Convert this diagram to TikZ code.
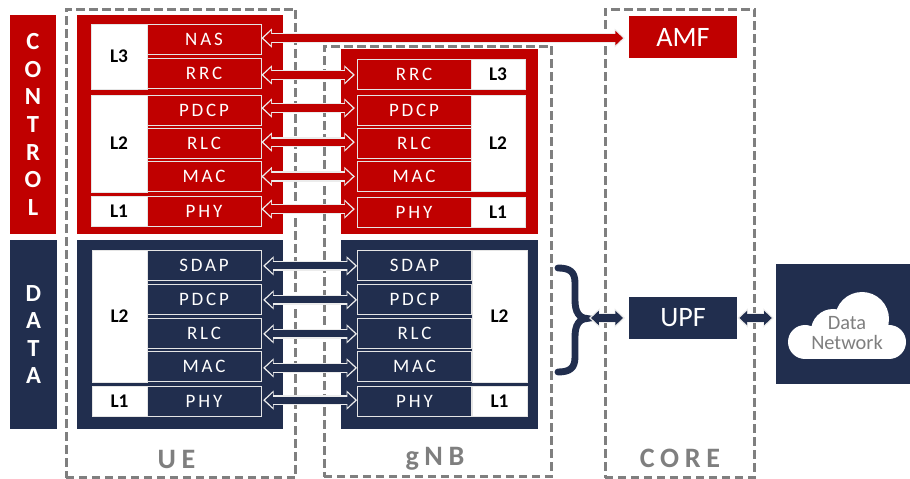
\documentclass[tikz,border=0pt]{standalone}
\usepackage{fontspec}
\setmainfont{Carlito}
\newfontfamily\spacedfont[LetterSpace=15]{Carlito}
\newfontfamily\widefont[LetterSpace=20]{Carlito}
\usetikzlibrary{arrows.meta}
\definecolor{ctrlred}{RGB}{192,0,0}
\definecolor{datanavy}{RGB}{33,46,78}
\definecolor{sitegray}{RGB}{127,127,127}

\begin{document}
\begin{tikzpicture}[
    x=0.02cm, y=-0.02cm,
    box/.style={rectangle, draw=white!80!gray, thin, text=white, inner sep=0, minimum width=2.28cm,
                minimum height=0.6cm, font=\spacedfont\fontsize{10.8}{12}\selectfont},
    tag/.style={rectangle, draw=white!80!gray, thin, fill=white, inner sep=0, minimum width=1.12cm,
                font=\bfseries\fontsize{11}{12}\selectfont},
    panel/.style={rectangle, inner sep=0, minimum width=4.12cm},
    plane/.style={rectangle, inner sep=0, text=white, align=center, minimum width=0.93cm,
                  font=\bfseries\fontsize{14}{15.7}\selectfont},
    site/.style={rectangle, draw=sitegray, line width=1.7pt, dash pattern=on 4.8pt off 2.6pt, inner sep=0},
    sitename/.style={text=sitegray, font=\widefont\bfseries\fontsize{16}{18}\selectfont},
    func/.style={rectangle, inner sep=0, text=white, minimum width=2.16cm, minimum height=0.84cm,
                 font=\fontsize{16}{18}\selectfont},
    flow/.style={draw=#1, line width=4.1pt, shorten <=1.2pt, shorten >=1.2pt,
                 {Triangle[length=4.4pt,width=8pt]}-{Triangle[length=4.4pt,width=8pt]},
                 preaction={draw=white!85!gray, line width=6pt, shorten <=0pt, shorten >=0pt,
                 {Triangle[length=6pt,width=10.6pt]}-{Triangle[length=6pt,width=10.6pt]}}}
]
\useasboundingbox (0,0) rectangle (910,479);

% Sites
\node[site, minimum width=4.6cm, minimum height=9.38cm] (UE) at (181,243.5) {};
\node[site, minimum width=4.56cm, minimum height=8.62cm] (gNB) at (438,261.5) {};
\node[site, minimum width=3cm, minimum height=9.38cm] (CORE) at (680,243.5) {};
\node[sitename] (UEname) at (176.5,459) {UE};
\node[sitename] (gNBname) at (435,459) {gNB};
\node[sitename] (COREname) at (680,458) {CORE};

% Planes
\node[plane, fill=ctrlred, minimum height=4.38cm] (control) at (33,124.5) {C\\O\\N\\T\\R\\O\\L};
\node[plane, fill=datanavy, minimum height=3.78cm] (data) at (33.5,334.5) {D\\A\\T\\A};

% UE control plane
\node[panel, fill=ctrlred, minimum height=4.38cm] (uctrl) at (180,124.5) {};
\node[tag, minimum height=1.3cm] (ucL3) at (119,56.5) {L3};
\node[tag, minimum height=1.94cm] (ucL2) at (119,143.5) {L2};
\node[tag, minimum height=0.6cm] (ucL1) at (119,211) {L1};
\node[box, fill=ctrlred] (uNAS) at (204,39.5) {NAS};
\node[box, fill=ctrlred] (uRRC) at (204,73.5) {RRC};
\node[box, fill=ctrlred] (ucPDCP) at (204,110) {PDCP};
\node[box, fill=ctrlred] (ucRLC) at (204,143) {RLC};
\node[box, fill=ctrlred] (ucMAC) at (204,176.5) {MAC};
\node[box, fill=ctrlred] (ucPHY) at (204,211) {PHY};

% gNB control plane
\node[panel, fill=ctrlred, minimum width=3.94cm, minimum height=3.7cm] (gctrl) at (439.5,141.5) {};
\node[tag, minimum width=1.08cm, minimum height=0.6cm] (gcL3) at (498,74) {L3};
\node[tag, minimum width=1.08cm, minimum height=1.92cm] (gcL2) at (498,143) {L2};
\node[tag, minimum width=1.08cm, minimum height=0.6cm] (gcL1) at (498,212) {L1};
\node[box, fill=ctrlred] (gRRC) at (414,74) {RRC};
\node[box, fill=ctrlred] (gcPDCP) at (414,110.5) {PDCP};
\node[box, fill=ctrlred] (gcRLC) at (414,143) {RLC};
\node[box, fill=ctrlred] (gcMAC) at (414,176) {MAC};
\node[box, fill=ctrlred] (gcPHY) at (414,212) {PHY};

% UE data plane
\node[panel, fill=datanavy, minimum height=3.78cm] (udata) at (180,334.5) {};
\node[tag, minimum width=1.1cm, minimum height=2.64cm] (udL2) at (119.5,316) {L2};
\node[tag, minimum width=1.1cm, minimum height=0.6cm] (udL1) at (119.5,401) {L1};
\node[box, fill=datanavy] (uSDAP) at (204,265) {SDAP};
\node[box, fill=datanavy] (udPDCP) at (204,299) {PDCP};
\node[box, fill=datanavy] (udRLC) at (204,333) {RLC};
\node[box, fill=datanavy] (udMAC) at (204,366.5) {MAC};
\node[box, fill=datanavy] (udPHY) at (204,401) {PHY};

% gNB data plane
\node[panel, fill=datanavy, minimum width=3.94cm, minimum height=3.78cm] (gdata) at (439.5,334.5) {};
\node[tag, minimum width=1.1cm, minimum height=2.64cm] (gdL2) at (499.5,316) {L2};
\node[tag, minimum width=1.1cm, minimum height=0.6cm] (gdL1) at (499.5,401) {L1};
\node[box, fill=datanavy] (gSDAP) at (414.5,265) {SDAP};
\node[box, fill=datanavy] (gdPDCP) at (414.5,299) {PDCP};
\node[box, fill=datanavy] (gdRLC) at (414.5,333) {RLC};
\node[box, fill=datanavy] (gdMAC) at (414.5,366.5) {MAC};
\node[box, fill=datanavy] (gdPHY) at (414.5,401) {PHY};

% Core functions
\node[func, fill=ctrlred] (AMF) at (683,37) {AMF};
\node[func, fill=datanavy] (UPF) at (683,318) {UPF};

% Data network
\node[rectangle, fill=datanavy, inner sep=0, minimum width=2.68cm, minimum height=2.4cm] (DN) at (843,324) {};
\fill[white] (805,342) circle (17) (833,331) circle (22) (862,319) circle (27) (889,342) circle (17);
\fill[white] (805,335) rectangle (889,359);
\node[text=sitegray, align=center, font=\fontsize{11.6}{11}\selectfont] (DNname) at (847,333) {Data\\Network};

% Brace
\coordinate (bracetip) at (589,318);
\draw[datanavy, line width=3.9pt, line cap=round]
    (558,268) .. controls (570,268) and (575,272) .. (575,283) -- (575,300)
    .. controls (575,312) and (579,318) .. (587,318.5)
    .. controls (579,319) and (575,325) .. (575,337) -- (575,357)
    .. controls (575,368) and (570,372) .. (558,372);

% Control links
\draw[flow=ctrlred] ([yshift=0.8pt]uNAS.east) -- ([yshift=0.8pt,xshift=-2pt]AMF.west |- uNAS.east);
\draw[flow=ctrlred] ([yshift=-0.8pt]uRRC.east) -- ([yshift=-0.8pt,xshift=-1pt]gRRC.west |- uRRC.east);
\draw[flow=ctrlred] ([yshift=1.1pt]ucPDCP.east) -- ([yshift=1.1pt,xshift=-1pt]gcPDCP.west |- ucPDCP.east);
\draw[flow=ctrlred] ([yshift=0.5pt]ucRLC.east) -- ([yshift=0.5pt,xshift=-1pt]gcRLC.west |- ucRLC.east);
\draw[flow=ctrlred] (ucMAC.east) -- ([xshift=-1pt]gcMAC.west |- ucMAC.east);
\draw[flow=ctrlred] ([yshift=1.1pt]ucPHY.east) -- ([yshift=1.1pt,xshift=-1pt]gcPHY.west |- ucPHY.east);

% Data links
\draw[flow=datanavy] ([yshift=-0.5pt,xshift=1pt]uSDAP.east) -- ([yshift=-0.5pt]gSDAP.west);
\draw[flow=datanavy] ([yshift=-0.5pt,xshift=1pt]udPDCP.east) -- ([yshift=-0.5pt]gdPDCP.west);
\draw[flow=datanavy] ([yshift=-0.5pt,xshift=1pt]udRLC.east) -- ([yshift=-0.5pt]gdRLC.west);
\draw[flow=datanavy] ([yshift=-0.8pt,xshift=1pt]udMAC.east) -- ([yshift=-0.8pt]gdMAC.west);
\draw[flow=datanavy] ([yshift=0.5pt,xshift=1pt]udPHY.east) -- ([yshift=0.5pt]gdPHY.west);
\draw[flow=datanavy] (bracetip) -- ([xshift=-2pt]UPF.west);
\draw[flow=datanavy] (UPF.east) -- ([xshift=-1pt]DN.west |- UPF.east);
\end{tikzpicture}
\end{document}
